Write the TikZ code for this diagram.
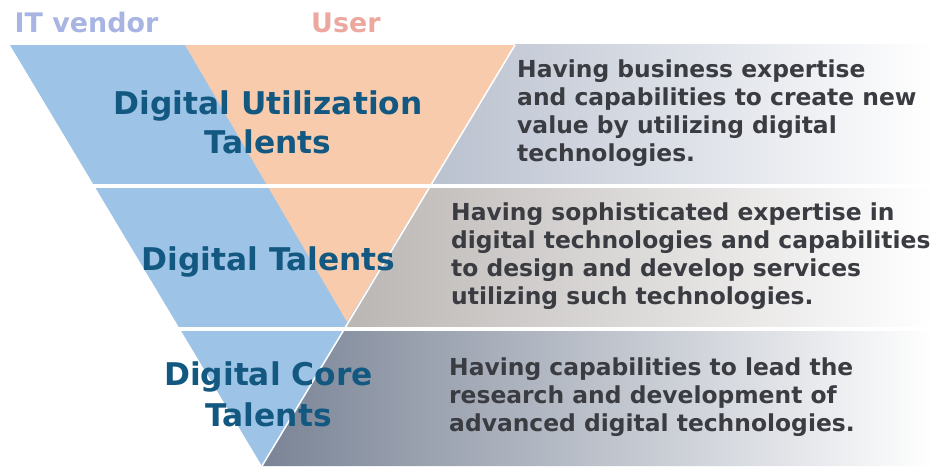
\documentclass[tikz,border=0pt]{standalone}
\usepackage{fontspec}
\setmainfont{DejaVu Sans}
\definecolor{tblue}{RGB}{157,195,230}
\definecolor{torange}{RGB}{248,203,173}
\definecolor{headc}{RGB}{18,88,128}
\definecolor{descc}{RGB}{58,60,66}
\definecolor{vendc}{RGB}{168,180,226}
\definecolor{userc}{RGB}{236,168,158}
\definecolor{bandA}{RGB}{186,193,207}
\definecolor{bandB}{RGB}{186,182,180}
\definecolor{bandC}{RGB}{122,132,150}
\begin{document}
\begin{tikzpicture}[x=1pt,y=-1pt,
  head/.style={font=\bfseries\fontsize{31.3}{38.8}\selectfont, text=headc, align=center, inner sep=0pt},
  desc/.style={font=\bfseries\fontsize{23.4}{27.8}\selectfont, text=descc, align=left, inner sep=0pt, anchor=north west},
  toplbl/.style={font=\bfseries\fontsize{26.9}{30}\selectfont, inner sep=0pt, anchor=base west},
  sep/.style={fill=white}]
\useasboundingbox (0,0) rectangle (933,466);
% gray gradient bands
\shade[left color=bandA, right color=white] (515,44) -- (933,44) -- (933,186) -- (431,186) -- cycle;
\shade[left color=bandB, right color=white] (431,186) -- (933,186) -- (933,329) -- (345,329) -- cycle;
\shade[left color=bandC, right color=white] (345,329) -- (933,329) -- (933,466) -- (262,466) -- cycle;
% inverted triangle
\fill[tblue] (10,45) -- (515,45) -- (262,466) -- cycle;
\fill[torange] (185,45) -- (515,45) -- (347,322) -- cycle;
\draw[white, line width=1.5pt] (262,466) -- (515,45);
% separators
\fill[sep] (0,183.5) rectangle (933,187.5);
\fill[sep] (0,326.5) rectangle (933,330.5);
% top labels
\node[toplbl, text=vendc] (vendor) at (14.5,32.3) {IT vendor};
\node[toplbl, text=userc] (user) at (311,32.3) {User};
% headings
\node[head, anchor=north] (h1) at (268,90.7) {Digital Utilization\\Talents};
\node[head, anchor=base] (h2) at (268.5,270) {Digital Talents};
\node[head, anchor=north, font=\bfseries\fontsize{31.3}{41.7}\selectfont] (h3) at (268.5,361.2) {Digital Core\\Talents};
% descriptions
\node[desc] (d1) at (517,60) {Having business expertise\\and capabilities to create new\\value by utilizing digital\\technologies.};
\node[desc] (d2) at (451,203) {Having sophisticated expertise in\\digital technologies and capabilities\\to design and develop services\\utilizing such technologies.};
\node[desc] (d3) at (449,358) {Having capabilities to lead the\\research and development of\\advanced digital technologies.};
\end{tikzpicture}
\end{document}
